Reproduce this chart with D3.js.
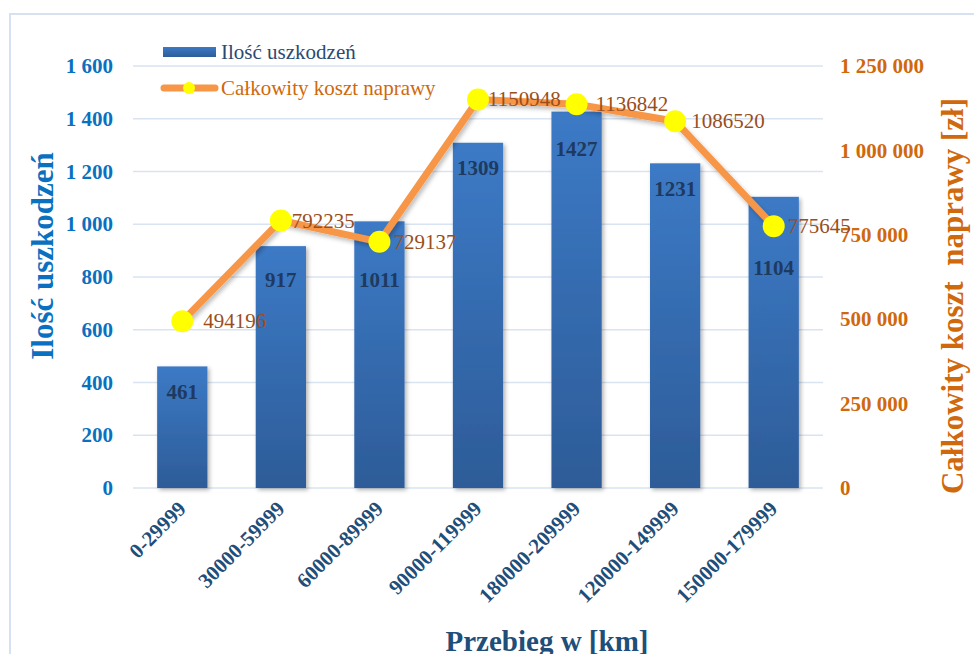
<!DOCTYPE html>
<html><head><meta charset="utf-8">
<script src="https://cdn.jsdelivr.net/npm/d3@7/dist/d3.min.js"></script>
<style>html,body{margin:0;padding:0;background:#fff;overflow:hidden}</style>
</head><body>
<svg id="c" width="974" height="654"></svg>
<script>
const categories = ["0-29999","30000-59999","60000-89999","90000-119999","180000-209999","120000-149999","150000-179999"];
const damages = [461, 917, 1011, 1309, 1427, 1231, 1104];
const costs = [494196, 792235, 729137, 1150948, 1136842, 1086520, 775645];
const leftTicks = [0, 200, 400, 600, 800, 1000, 1200, 1400, 1600];
const rightTicks = [0, 250000, 500000, 750000, 1000000, 1250000];
// layout: vertical offset of bar labels below bar top (px), as placed in the original
const barLabelDy = [26, 34, 59, 25, 37, 26, 71];

const svg = d3.select("#c");
const F = "'Liberation Serif','Times New Roman',serif";
const m = {left:133, right:823, top:66, bottom:488};

const defs = svg.append("defs");
const g1 = defs.append("linearGradient").attr("id","bg").attr("x1",0).attr("y1",0).attr("x2",0).attr("y2",1);
g1.append("stop").attr("offset","0%").attr("stop-color","#3c7ac6");
g1.append("stop").attr("offset","100%").attr("stop-color","#2d5c98");
const sh = defs.append("filter").attr("id","sh").attr("x","-20%").attr("y","-20%").attr("width","150%").attr("height","150%");
sh.append("feDropShadow").attr("dx",2).attr("dy",2).attr("stdDeviation",2).attr("flood-color","#000").attr("flood-opacity",0.3);
const sh2 = defs.append("filter").attr("id","sh2").attr("x","-20%").attr("y","-20%").attr("width","150%").attr("height","150%");
sh2.append("feDropShadow").attr("dx",2).attr("dy",3).attr("stdDeviation",2).attr("flood-color","#000").attr("flood-opacity",0.25);

// border
svg.append("rect").attr("x",10).attr("y",14).attr("width",1000).attr("height",700)
  .attr("fill","none").attr("stroke","#d6e2f2").attr("stroke-width",2);

const x = d3.scaleBand().domain(categories).range([m.left, m.right]).paddingInner(0.49).paddingOuter(0.245);
const yL = d3.scaleLinear().domain([0,1600]).range([m.bottom, m.top]);
const yR = d3.scaleLinear().domain([0,1250000]).range([m.bottom, m.top]);
const fmt = d=>d3.format(",")(d).replace(/,/g," ");

// gridlines
svg.append("g").selectAll("line").data(leftTicks).join("line")
  .attr("x1",m.left).attr("x2",m.right).attr("y1",d=>yL(d)).attr("y2",d=>yL(d))
  .attr("stroke","#d9e4f2").attr("stroke-width",1.5);

// left axis
const axL = svg.append("g").attr("transform",`translate(${m.left-20},0)`)
  .call(d3.axisLeft(yL).tickValues(leftTicks).tickSize(0).tickPadding(0).tickFormat(fmt));
axL.select(".domain").remove();
axL.selectAll("text").attr("font-family",F).attr("font-weight","bold").attr("font-size",21).attr("fill","#0a70c0");

// right axis
const axR = svg.append("g").attr("transform",`translate(${m.right+17},0)`)
  .call(d3.axisRight(yR).tickValues(rightTicks).tickSize(0).tickPadding(0).tickFormat(fmt));
axR.select(".domain").remove();
axR.selectAll("text").attr("font-family",F).attr("font-weight","bold").attr("font-size",21).attr("fill","#d0680c");

// bars
svg.append("g").selectAll("rect").data(damages).join("rect")
  .attr("x",(d,i)=>x(categories[i])).attr("width",x.bandwidth())
  .attr("y",d=>yL(d)).attr("height",d=>yL(0)-yL(d))
  .attr("fill","url(#bg)").attr("filter","url(#sh)");

// bar labels
svg.append("g").selectAll("text").data(damages).join("text")
  .attr("x",(d,i)=>x(categories[i])+x.bandwidth()/2)
  .attr("y",(d,i)=>yL(d)+barLabelDy[i])
  .attr("text-anchor","middle").attr("dominant-baseline","central")
  .attr("font-family",F).attr("font-weight","bold").attr("font-size",21).attr("fill","#1e3a60")
  .text(d=>d);

// x tick labels
const axB = svg.append("g").attr("transform",`translate(0,${m.bottom})`)
  .call(d3.axisBottom(x).tickSize(0).tickPadding(0));
axB.select(".domain").remove();
axB.selectAll("text")
  .attr("font-family",F).attr("font-weight","bold").attr("font-size",21).attr("fill","#1f4e79")
  .attr("text-anchor","end").attr("dy",0).attr("y",0)
  .attr("transform","translate(5,22) rotate(-45)");

// line
const cx = (d,i)=>x(categories[i])+x.bandwidth()/2;
const line = d3.line().x((d,i)=>cx(d,i)).y(d=>yR(d));
svg.append("path").datum(costs).attr("d",line).attr("fill","none")
  .attr("stroke","#f79646").attr("stroke-width",7).attr("stroke-linejoin","round").attr("filter","url(#sh2)");
svg.append("g").selectAll("circle").data(costs).join("circle")
  .attr("cx",cx).attr("cy",d=>yR(d)).attr("r",11).attr("fill","#ffff00");

// line labels
const lblDx = [21, 11, 14, 10, 19, 16, 14];
svg.append("g").selectAll("text").data(costs).join("text")
  .attr("x",(d,i)=>cx(d,i)+lblDx[i]).attr("y",d=>yR(d))
  .attr("dominant-baseline","central")
  .attr("font-family",F).attr("font-size",21).attr("fill","#9a4e1c")
  .text(d=>d);

// axis titles
svg.append("text").attr("transform","translate(42,256) rotate(-90)")
  .attr("text-anchor","middle").attr("dominant-baseline","central")
  .attr("font-family",F).attr("font-weight","bold").attr("font-size",31).attr("fill","#0a70c0")
  .text("Ilość uszkodzeń");
svg.append("text").attr("transform","translate(952,296) rotate(-90)")
  .attr("text-anchor","middle").attr("dominant-baseline","central")
  .attr("font-family",F).attr("font-weight","bold").attr("font-size",31).attr("fill","#d0680c")
  .attr("xml:space","preserve").style("white-space","pre")
  .text("Całkowity koszt  naprawy [zł]");
svg.append("text").attr("x",547).attr("y",651).attr("text-anchor","middle")
  .attr("font-family",F).attr("font-weight","bold").attr("font-size",29).attr("fill","#1f4e79")
  .text("Przebieg w [km]");

// legend
const lg = svg.append("g");
lg.append("rect").attr("x",163).attr("y",47).attr("width",53).attr("height",10).attr("fill","url(#bg)");
lg.append("text").attr("x",221).attr("y",52).attr("dominant-baseline","central")
  .attr("font-family",F).attr("font-size",21).attr("fill","#2b4a72").text("Ilość uszkodzeń");
lg.append("line").attr("x1",164).attr("x2",215).attr("y1",88).attr("y2",88)
  .attr("stroke","#f79646").attr("stroke-width",7).attr("stroke-linecap","round");
lg.append("circle").attr("cx",189).attr("cy",88).attr("r",6).attr("fill","#ffff00");
lg.append("text").attr("x",221).attr("y",88).attr("dominant-baseline","central")
  .attr("font-family",F).attr("font-size",21).attr("fill","#d0680c").text("Całkowity koszt naprawy");
</script>
</body></html>
